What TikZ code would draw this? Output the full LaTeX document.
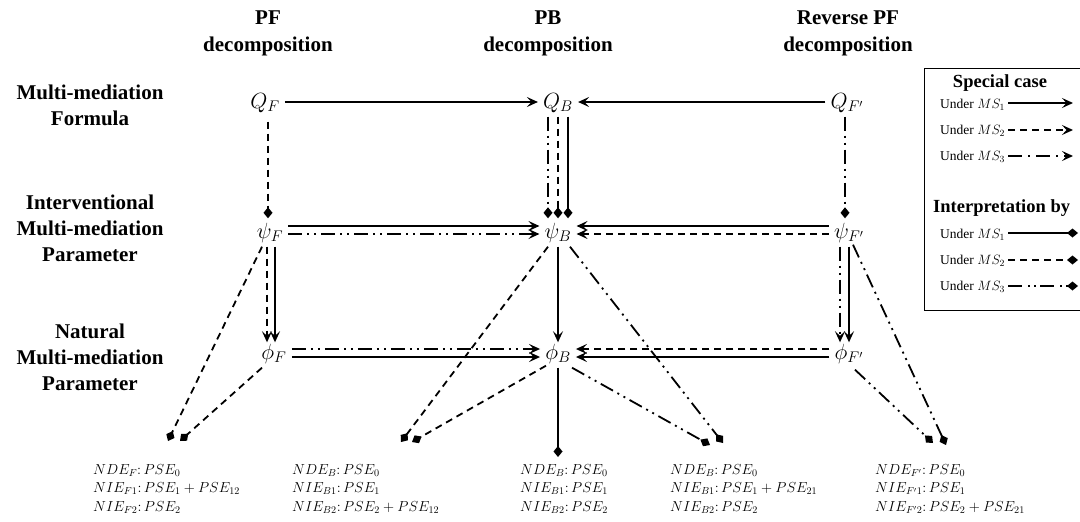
\RequirePackage{fix-cm}
\documentclass[tikz,border=0pt]{standalone}
\usepackage{fontspec}
\setmainfont{Liberation Serif}
\usetikzlibrary{arrows.meta,calc}
\begin{document}
\begin{tikzpicture}[x=1pt,y=-1pt,
  lw/.style={line width=1.8pt},
  sc/.style={lw,-{Stealth[length=11pt,width=10pt,inset=4.5pt]}},
  ip/.style={lw,-{Diamond[length=11pt,width=9pt]}},
  msone/.style={solid},
  mstwo/.style={dash pattern=on 7pt off 5pt},
  msthree/.style={dash pattern=on 14pt off 5pt on 2pt off 5pt on 2pt off 5pt},
  mnode/.style={inner xsep=5pt,inner ysep=2pt,text height=15pt,text depth=6pt,font=\fontsize{22}{24}\selectfont},
  hdr/.style={font=\bfseries\fontsize{21}{27}\selectfont,align=center,inner sep=0pt},
  rlab/.style={font=\bfseries\fontsize{21}{26}\selectfont,align=center,inner sep=0pt},
  lab/.style={font=\fontsize{14.5}{18.7}\selectfont,align=left,anchor=north west,inner sep=0pt},
  leg/.style={font=\fontsize{13.5}{16}\selectfont,anchor=west,inner sep=0pt},
  legt/.style={font=\bfseries\fontsize{18.5}{20}\selectfont,inner sep=0pt}
]
\useasboundingbox (0,0) rectangle (1080,522);

% headers
\node[hdr] (h1) at (268,33) {PF\\decomposition};
\node[hdr] (h2) at (548,33) {PB\\decomposition};
\node[hdr] (h3) at (848,33) {Reverse PF\\decomposition};
\node[rlab] (r1) at (90,105) {Multi-mediation\\Formula};
\node[rlab] (r2) at (90,228) {Interventional\\Multi-mediation\\Parameter};
\node[rlab] (r3) at (90,357) {Natural\\Multi-mediation\\Parameter};

% math nodes
\node[mnode] (QF) at (265,104) {$Q_F$};
\node[mnode] (QB) at (558,104) {$Q_B$};
\node[mnode] (QFp) at (847,104) {$Q_{F'}$};
\node[mnode] (psiF) at (270,234) {$\psi_F$};
\node[mnode] (psiB) at (558,234) {$\psi_B$};
\node[mnode] (psiFp) at (849,234) {$\psi_{F'}$};
\node[mnode] (phiF) at (274,355) {$\phi_F$};
\node[mnode] (phiB) at (558,355) {$\phi_B$};
\node[mnode] (phiFp) at (849,355) {$\phi_{F'}$};

% row 1
\draw[sc] ($(QF.east)+(0,-2)$) -- ($(QB.west)+(0,-2)$);
\draw[sc] ($(QFp.west)+(0,-2)$) -- ($(QB.east)+(0,-2)$);
% row 2
\draw[sc] ($(psiF.east)+(0,-8)$) -- ($(psiB.west)+(0,-8)$);
\draw[sc,msthree] (psiF.east) -- (psiB.west);
\draw[sc] ($(psiFp.west)+(0,-8)$) -- ($(psiB.east)+(0,-8)$);
\draw[sc,mstwo] (psiFp.west) -- (psiB.east);
% row 3
\draw[sc,msthree] ($(phiF.east)+(0,-6)$) -- ($(phiB.west)+(0,-6)$);
\draw[sc] ($(phiF.east)+(0,2)$) -- ($(phiB.west)+(0,2)$);
\draw[sc,mstwo] ($(phiFp.west)+(0,-6)$) -- ($(phiB.east)+(0,-6)$);
\draw[sc] ($(phiFp.west)+(0,2)$) -- ($(phiB.east)+(0,2)$);

% verticals row1 -> row2
\draw[ip,mstwo] ($(QF.south)+(3,5)$) -- ($(psiF.north)+(-2,-3)$);
\draw[ip,msthree] ($(QB.south)+(-10,0)$) -- ($(psiB.north)+(-10,-3)$);
\draw[ip,mstwo] ($(QB.south)+(0,0)$) -- ($(psiB.north)+(0,-3)$);
\draw[ip] ($(QB.south)+(10,0)$) -- ($(psiB.north)+(10,-3)$);
\draw[ip,msthree] ($(QFp.south)+(-2,0)$) -- ($(psiFp.north)+(-4,-3)$);

% verticals row2 -> row3
\draw[sc,mstwo] ($(psiF.south)+(-3,0)$) -- ($(phiF.north)+(-7,0)$);
\draw[sc] ($(psiF.south)+(5,0)$) -- ($(phiF.north)+(1,0)$);
\draw[sc] (psiB.south) -- (phiB.north);
\draw[sc,msthree] ($(psiFp.south)+(-9,0)$) -- ($(phiFp.north)+(-9,0)$);
\draw[sc] ($(psiFp.south)+(0,0)$) -- ($(phiFp.north)+(0,0)$);

% bottom end points
\coordinate (e1a) at (168,441);
\coordinate (e1b) at (180,441);
\coordinate (e2a) at (401,442);
\coordinate (e2b) at (412,442);
\coordinate (e3) at (558,457);
\coordinate (e4a) at (710,445);
\coordinate (e4b) at (723,443);
\coordinate (e5a) at (933,443);
\coordinate (e5b) at (946,445);

\draw[ip,mstwo] ($(psiF.south)+(-8,0)$) -- (e1a);
\draw[ip,mstwo] ($(phiF.south)+(-12,0)$) -- (e1b);
\draw[ip,mstwo] ($(psiB.south)+(-10,0)$) -- (e2a);
\draw[ip,mstwo] ($(phiB.south)+(-12,-2)$) -- (e2b);
\draw[ip] (phiB.south) -- (e3);
\draw[ip,msthree] ($(phiB.south)+(14,0)$) -- (e4a);
\draw[ip,msthree] ($(psiB.south)+(12,0)$) -- (e4b);
\draw[ip,msthree] ($(phiFp.south)+(6,2)$) -- (e5a);
\draw[ip,msthree] ($(psiFp.south)+(4,-2)$) -- (e5b);

% bottom labels
\node[lab] (L1) at (93,464) {$NDE_F\colon PSE_0$\\$NIE_{F1}\colon PSE_1+PSE_{12}$\\$NIE_{F2}\colon PSE_2$};
\node[lab] (L2) at (292,464) {$NDE_B\colon PSE_0$\\$NIE_{B1}\colon PSE_1$\\$NIE_{B2}\colon PSE_2+PSE_{12}$};
\node[lab] (L3) at (520,464) {$NDE_B\colon PSE_0$\\$NIE_{B1}\colon PSE_1$\\$NIE_{B2}\colon PSE_2$};
\node[lab] (L4) at (670,464) {$NDE_B\colon PSE_0$\\$NIE_{B1}\colon PSE_1+PSE_{21}$\\$NIE_{B2}\colon PSE_2$};
\node[lab] (L5) at (875,464) {$NDE_{F'}\colon PSE_0$\\$NIE_{F'1}\colon PSE_1$\\$NIE_{F'2}\colon PSE_2+PSE_{21}$};

% legend
\draw[line width=1pt] (1080,68) -- (924,68) -- (924,310) -- (1080,310);
\node[legt] (lt1) at (1000,83) {Special case};
\node[leg] (u1) at (940,105) {Under $MS_1$};
\node[leg] (u2) at (940,131) {Under $MS_2$};
\node[leg] (u3) at (940,157) {Under $MS_3$};
\node[legt,anchor=west] (lt2) at (933,208) {Interpretation by};
\node[leg] (v1) at (940,235) {Under $MS_1$};
\node[leg] (v2) at (940,261) {Under $MS_2$};
\node[leg] (v3) at (940,287) {Under $MS_3$};
\coordinate (a1s) at (1008,103); \coordinate (a1e) at (1073,103);
\coordinate (a2s) at (1008,130); \coordinate (a2e) at (1073,130);
\coordinate (a3s) at (1008,156); \coordinate (a3e) at (1073,156);
\coordinate (b1s) at (1008,233); \coordinate (b1e) at (1078,233);
\coordinate (b2s) at (1008,260); \coordinate (b2e) at (1078,260);
\coordinate (b3s) at (1008,286); \coordinate (b3e) at (1078,286);
\draw[sc] (a1s) -- (a1e);
\draw[sc,mstwo] (a2s) -- (a2e);
\draw[sc,dash pattern=on 14pt off 6pt on 2pt off 6pt] (a3s) -- (a3e);
\draw[ip] (b1s) -- (b1e);
\draw[ip,mstwo] (b2s) -- (b2e);
\draw[ip,dash pattern=on 14pt off 6pt on 2pt off 4pt on 2pt off 4pt] (b3s) -- (b3e);
\end{tikzpicture}
\end{document}
